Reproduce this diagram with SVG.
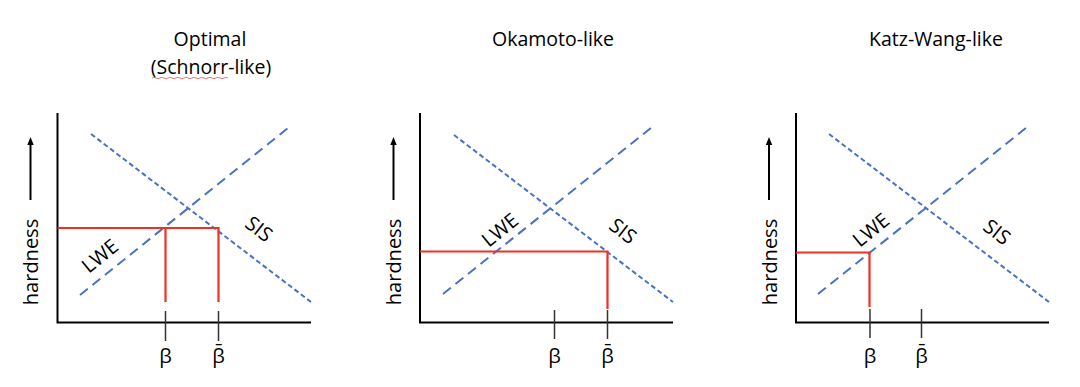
<svg xmlns="http://www.w3.org/2000/svg" width="1080" height="387" viewBox="0 0 1080 387">
<defs>
<marker id="ah" markerWidth="8" markerHeight="8" refX="4" refY="4" orient="auto" markerUnits="userSpaceOnUse"><path d="M0,0.8 L8,4 L0,7.2 Z" fill="#000"/></marker>
</defs>
<style>
text{font-family:"Open Sans","Liberation Sans",sans-serif;fill:#000}
.title{font-size:19.5px;text-anchor:middle}
.ylab{font-size:20px;text-anchor:middle}
.lab{font-size:20px;text-anchor:middle}
.tick{font-size:20px;text-anchor:middle}
.axis{stroke:#000;stroke-width:2;fill:none}
.tk{stroke:#333;stroke-width:1.5}
.lwe{stroke:#4a72c4;stroke-width:2;stroke-dasharray:10 6;fill:none}
.sis{stroke:#4a72c4;stroke-width:2;stroke-dasharray:5 3;fill:none}
.red{stroke:#ee3124;stroke-width:2.2;fill:none}
.arr{stroke:#000;stroke-width:2}
</style>
<rect width="1080" height="387" fill="#fff"/>

<g id="panel-optimal">
<text class="title" x="210" y="46">Optimal</text>
<text class="title" x="211" y="74">(Schnorr-like)</text>
<path d="M152,78 q2,-1.5 4,0 t4,0 t4,0 t4,0 t4,0 t4,0 t4,0 t4,0 t4,0 t4,0 t4,0 t4,0 t4,0 t4,0 t4,0 t4,0 t4,0 t4,0 t4,0" stroke="#e36a6a" stroke-width="0.9" fill="none"/>
<line class="arr" x1="30.5" y1="200" x2="30.5" y2="141" marker-end="url(#ah)"/>
<text class="ylab" transform="translate(38,262) rotate(-90)">hardness</text>
<path class="axis" d="M57.5,113 V322.5 H311"/>
<line class="lwe" x1="80" y1="295" x2="288" y2="128"/>
<line class="sis" x1="91" y1="134" x2="311" y2="302"/>
<path class="red" d="M57.5,228 H218.5"/>
<line class="red" x1="165.5" y1="228" x2="165.5" y2="302"/>
<line class="red" x1="218.5" y1="227" x2="218.5" y2="302"/>
<line class="tk" x1="165.5" y1="311" x2="165.5" y2="341"/>
<line class="tk" x1="218.5" y1="311" x2="218.5" y2="341"/>
<text class="tick" x="165.5" y="363">β</text>
<text class="tick" x="218.5" y="363">β̄</text>
<text class="lab" transform="translate(100,256) rotate(-39)" dy="7">LWE</text>
<text class="lab" transform="translate(259,229) rotate(38)" dy="7">SIS</text>
</g>

<g id="panel-okamoto">
<text class="title" x="553" y="46">Okamoto-like</text>
<line class="arr" x1="393.5" y1="200" x2="393.5" y2="141" marker-end="url(#ah)"/>
<text class="ylab" transform="translate(401,262) rotate(-90)">hardness</text>
<path class="axis" d="M420,113 V322.5 H673"/>
<line class="lwe" x1="443" y1="294" x2="651" y2="128"/>
<line class="sis" x1="454" y1="135" x2="673" y2="302"/>
<path class="red" d="M420,251.5 H607.5 V309"/>
<line class="tk" x1="554.5" y1="310" x2="554.5" y2="339"/>
<line class="tk" x1="607.5" y1="310" x2="607.5" y2="339"/>
<text class="tick" x="554.5" y="363">β</text>
<text class="tick" x="607.5" y="363">β̄</text>
<text class="lab" transform="translate(500,230) rotate(-39)" dy="7">LWE</text>
<text class="lab" transform="translate(623,231) rotate(38)" dy="7">SIS</text>
</g>

<g id="panel-katzwang">
<text class="title" x="936" y="46">Katz-Wang-like</text>
<line class="arr" x1="769" y1="200" x2="769" y2="141" marker-end="url(#ah)"/>
<text class="ylab" transform="translate(777,262) rotate(-90)">hardness</text>
<path class="axis" d="M796,113 V322.5 H1049"/>
<line class="lwe" x1="818" y1="294" x2="1026" y2="128"/>
<line class="sis" x1="829" y1="134" x2="1049" y2="302"/>
<path class="red" d="M796,252.5 H869.5 V307"/>
<line class="tk" x1="870" y1="309" x2="870" y2="338"/>
<line class="tk" x1="921.5" y1="309" x2="921.5" y2="338"/>
<text class="tick" x="870" y="363">β</text>
<text class="tick" x="921.5" y="363">β̄</text>
<text class="lab" transform="translate(871,230) rotate(-39)" dy="7">LWE</text>
<text class="lab" transform="translate(997,232) rotate(38)" dy="7">SIS</text>
</g>
</svg>
